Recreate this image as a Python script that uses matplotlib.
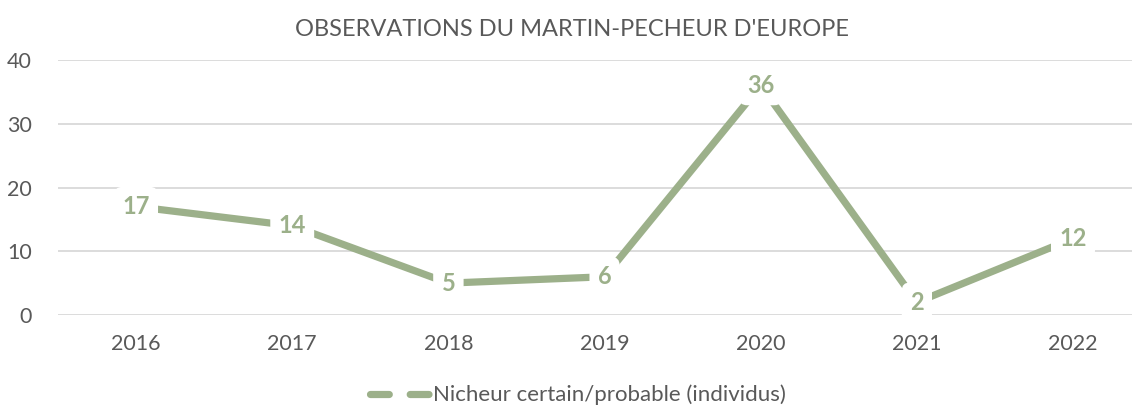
import matplotlib
matplotlib.use("Agg")
import matplotlib.pyplot as plt
from matplotlib.lines import Line2D

years = ["2016", "2017", "2018", "2019", "2020", "2021", "2022"]
values = [17, 14, 5, 6, 36, 2, 12]
series_name = "Nicheur certain/probable (individus)"
title = "OBSERVATIONS DU MARTIN-PECHEUR D'EUROPE"
yticks = [0, 10, 20, 30, 40]

green = "#9CB08A"
grey = "#595959"
plt.rcParams['font.family'] = ['Lato', 'DejaVu Sans']

W, H = 1144, 409
fig = plt.figure(figsize=(W / 100, H / 100), dpi=100)
ax = fig.add_axes([58 / W, 1 - 315 / H, (1132 - 58) / W, (315 - 60) / H])

x = list(range(len(years)))
ax.plot(x, values, color=green, lw=5.2, solid_capstyle='butt', zorder=2)
for xi, v in zip(x, values):
    ax.text(xi, v, str(v), ha='center', va='center', fontsize=17, fontweight='bold',
            color=green, zorder=3,
            bbox=dict(boxstyle='round,pad=0.35', fc='white', ec='none'))

ax.set_xlim(-0.5, 6 + (1132 - 1073) / 156.2)
ax.set_ylim(0, 40)
ax.set_yticks(yticks)
ax.set_xticks(x)
ax.set_xticklabels(years)
ax.yaxis.grid(True, color='#D9D9D9', lw=1.3, zorder=0)
ax.set_axisbelow(True)
for s in ax.spines.values():
    s.set_visible(False)
ax.tick_params(length=0, labelsize=15.5, colors=grey, pad=14)
ax.tick_params(axis='y', pad=19)
for lbl in ax.get_yticklabels():
    lbl.set_horizontalalignment('right')

fig.text(0.5, 1 - 29 / H, title, ha='center', va='center', fontsize=17, color=grey)

handle = Line2D([0], [0], color=green, lw=5.2, linestyle=(0, (2.6, 2.9)),
                dash_capstyle='round')
fig.legend([handle], [series_name], loc='center', bbox_to_anchor=(0.505, 1 - 395 / H),
           frameon=False, fontsize=16, labelcolor=grey, handlelength=2.7, handletextpad=0.15)

fig.savefig("out.png", dpi=100)
